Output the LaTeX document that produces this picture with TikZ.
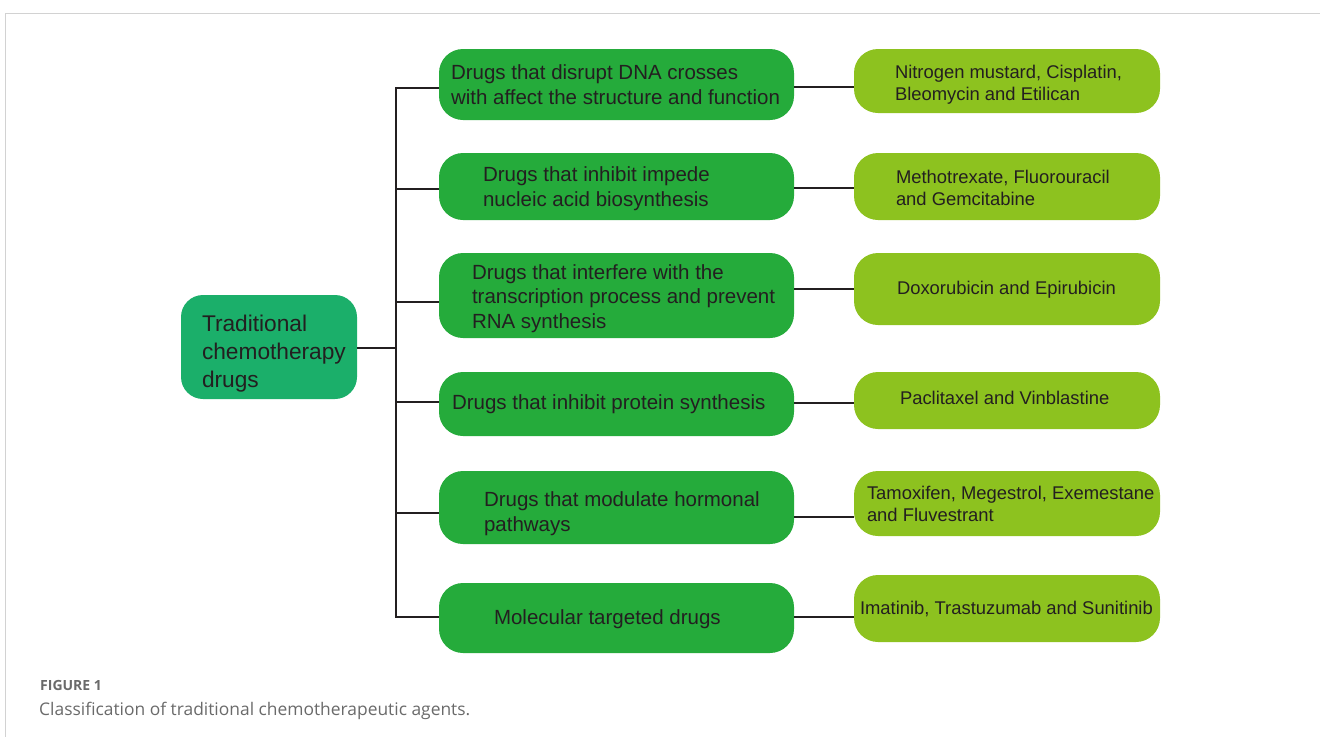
\documentclass[tikz,border=0pt]{standalone}
\usepackage{fontspec}
\setmainfont{Liberation Sans}
\newfontfamily\capfont{Open Sans}
\usetikzlibrary{calc}

\definecolor{rootgreen}{HTML}{1BAF6A}
\definecolor{midgreen}{HTML}{25AB3B}
\definecolor{leafgreen}{HTML}{8DC21F}
\definecolor{ink}{HTML}{231F20}
\definecolor{framegray}{HTML}{D2D2D2}
\definecolor{capgray}{HTML}{6A6A6A}

\begin{document}
\begin{tikzpicture}[x=1pt,y=-1pt,
  rootbox/.style={fill=rootgreen, rounded corners=22pt, inner sep=0pt,
    minimum width=176pt, minimum height=104pt},
  midbox/.style={fill=midgreen, rounded corners=24pt, inner sep=0pt,
    minimum width=355pt},
  leafbox/.style={fill=leafgreen, rounded corners=24pt, inner sep=0pt,
    minimum width=306pt},
  roottext/.style={anchor=west, inner sep=0pt, align=left, text=ink,
    font=\fontsize{22.7}{28}\selectfont},
  midtext/.style={anchor=west, inner sep=0pt, align=left, text=ink,
    font=\fontsize{20.5}{24.8}\selectfont},
  leaftext/.style={anchor=west, inner sep=0pt, align=left, text=ink,
    font=\fontsize{18.4}{22.5}\selectfont},
  link/.style={draw=ink, line width=1.8pt},
  frame/.style={draw=framegray, line width=1pt}]

% canvas
\useasboundingbox (0,0) rectangle (1320,737);
\draw[frame] (1320,13) -- (5,13) -- (5,737);

% root
\node[rootbox] (r0) at (269,347) {};
\node[roottext] at ($(r0.west)+(21,7)$) {Traditional\\chemotherapy\\drugs};

% middle column: categories
\node[midbox, minimum height=71pt] (m1) at (616.5,84.5) {};
\node[midbox, minimum height=67pt] (m2) at (616.5,186.5) {};
\node[midbox, minimum height=85pt] (m3) at (616.5,295.5) {};
\node[midbox, minimum height=64pt] (m4) at (616.5,404) {};
\node[midbox, minimum height=73pt] (m5) at (616.5,507.5) {};
\node[midbox, minimum height=70pt] (m6) at (616.5,618) {};

\node[midtext] at ($(m1.west)+(12,0)$) {Drugs that disrupt DNA crosses\\with affect the structure and function};
\node[midtext] at ($(m2.west)+(44,2)$) {Drugs that inhibit impede\\nucleic acid biosynthesis};
\node[midtext] at ($(m3.west)+(33,3)$) {Drugs that interfere with the\\transcription process and prevent\\RNA synthesis};
\node[midtext] at ($(m4.west)+(13,0)$) {Drugs that inhibit protein synthesis};
\node[midtext] at ($(m5.west)+(45,6)$) {Drugs that modulate hormonal\\pathways};
\node[midtext] at ($(m6.west)+(55,1)$) {Molecular targeted drugs};

% right column: example agents
\node[leafbox, minimum height=64pt] (l1) at (1007,81) {};
\node[leafbox, minimum height=67pt] (l2) at (1007,186.5) {};
\node[leafbox, minimum height=72pt] (l3) at (1007,289) {};
\node[leafbox, minimum height=57pt] (l4) at (1007,400.5) {};
\node[leafbox, minimum height=65pt] (l5) at (1007,503.5) {};
\node[leafbox, minimum height=67pt] (l6) at (1007,608.5) {};

\node[leaftext] at ($(l1.west)+(41,3.5)$) {Nitrogen mustard, Cisplatin,\\Bleomycin and Etilican};
\node[leaftext] at ($(l2.west)+(42,1.5)$) {Methotrexate, Fluorouracil\\and Gemcitabine};
\node[leaftext] at ($(l3.west)+(43,1)$) {Doxorubicin and Epirubicin};
\node[leaftext] at ($(l4.west)+(46,-2.5)$) {Paclitaxel and Vinblastine};
\node[leaftext] at ($(l5.west)+(13,0.5)$) {Tamoxifen, Megestrol, Exemestane\\and Fluvestrant};
\node[leaftext] at ($(l6.west)+(6,1)$) {Imatinib, Trastuzumab and Sunitinib};

% trunk and branches
\coordinate (tk) at (396,0);
\draw[link] (r0.east |- 0,348) -- (tk |- 0,348);
\draw[link] (m1.west |- 0,88) -| (tk |- 0,617) -- (m6.west |- 0,617);
\foreach \i/\y in {2/189,3/302,4/402,5/513}
  \draw[link] (tk |- 0,\y) -- (m\i.west |- 0,\y);
\foreach \i/\y in {1/87,2/188,3/289,4/403,5/517,6/617}
  \draw[link] (m\i.east |- 0,\y) -- (l\i.west |- 0,\y);

% caption
\node[anchor=west, inner sep=0pt, text=capgray, font=\capfont\bfseries\fontsize{14}{16}\selectfont]
  (fig) at (40,685) {FIGURE 1};
\node[anchor=west, inner sep=0pt, text=capgray, font=\capfont\fontsize{17.4}{20}\selectfont]
  (cap) at (39,711) {Classification of traditional chemotherapeutic agents.};
\end{tikzpicture}
\end{document}
